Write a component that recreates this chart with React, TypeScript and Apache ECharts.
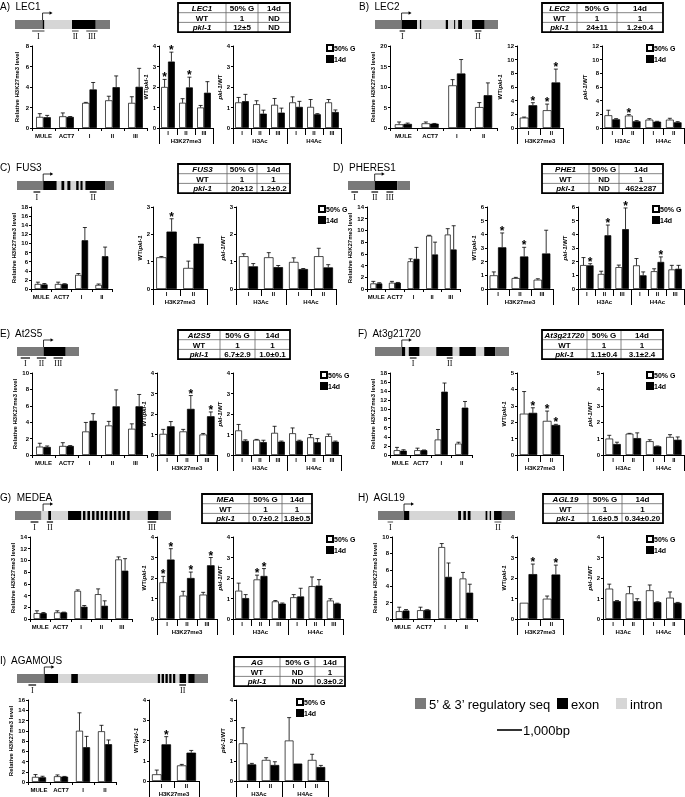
import React, { useEffect, useRef } from 'react';
import * as echarts from 'echarts';

const SANS = '"Liberation Sans", Arial, Helvetica, sans-serif';
const SERIF = '"Liberation Serif", "Times New Roman", serif';
const C_REG = '#7a7a7a';
const C_EXON = '#000000';
const C_INTRON = '#d6d6d6';

// ---------------- shared category / tick labels
const seriesNames = ['50% G', '14d'];
const k27Cats5 = ['MULE', 'ACT7', 'I', 'II', 'III'];
const k27Cats4 = ['MULE', 'ACT7', 'I', 'II'];
const regCats3 = ['I', 'II', 'III'];
const regCats2 = ['I', 'II'];
const acCats3 = ['I', 'II', 'III', 'I', 'II', 'III'];
const acCats2 = ['I', 'II', 'I', 'II'];
const ratioGroups = ['H3K27me3'];
const acGroups = ['H3Ac', 'H4Ac'];
const tableHeader = ['50% G', '14d'];
const tableRows = ['WT', 'pkl-1'];

// ---------------- A) LEC1
const lec1K27G = [1.08, 1.14, 2.45, 2.7, 2.45];
const lec1K27GErr = [0.32, 0.33, 0.05, 0.4, 0.6];
const lec1K27D = [1.05, 1.08, 3.76, 3.98, 4.02];
const lec1K27DErr = [0.18, 0.04, 0.68, 1.1, 1.8];
const lec1RatioG = [2.0, 1.23, 1.0];
const lec1RatioGErr = [0.37, 0.2, 0.1];
const lec1RatioD = [3.24, 1.98, 1.72];
const lec1RatioDErr = [0.46, 0.5, 0.54];
const lec1RatioStarG = [1, 0, 0];
const lec1RatioStarD = [1, 1, 0];
const lec1AcG = [1.25, 1.16, 1.13, 1.25, 1.03, 1.25];
const lec1AcGErr = [0.24, 0.17, 0.31, 0.27, 0.36, 0.14];
const lec1AcD = [1.31, 0.7, 0.75, 1.03, 0.67, 0.78];
const lec1AcDErr = [0.33, 0.17, 0.22, 0.27, 0.03, 0.1];
const lec1AcStarG = [0, 0, 0, 0, 0, 0];
const lec1AcStarD = [0, 0, 0, 0, 0, 0];
const lec1Tab50G = ['1', '12±5'];
const lec1Tab14d = ['ND', 'ND'];
const lec1Segs = [[0, 0.29, 'r'], [0.29, 0.31, 'e'], [0.31, 0.6, 'i'], [0.6, 0.85, 'e'], [0.85, 1, 'r']];
const lec1Marks = [[0.18, 0.31, 'I'], [0.6, 0.67, 'II'], [0.75, 0.87, 'III']];

// ---------------- B) LEC2
const lec2K27G = [0.9, 1.14, 10.4, 5.1];
const lec2K27GErr = [0.57, 0.33, 1.4, 1.1];
const lec2K27D = [1.0, 1.06, 13.3, 8.0];
const lec2K27DErr = [0.2, 0.05, 3.4, 3.0];
const lec2RatioG = [1.52, 2.6];
const lec2RatioGErr = [0.08, 0.9];
const lec2RatioD = [3.33, 6.67];
const lec2RatioDErr = [0.37, 1.95];
const lec2RatioStarG = [0, 1];
const lec2RatioStarD = [1, 1];
const lec2AcG = [1.86, 1.81, 1.22, 1.22];
const lec2AcGErr = [0.74, 0.15, 0.15, 0.2];
const lec2AcD = [1.27, 0.98, 0.93, 0.83];
const lec2AcDErr = [0.1, 0.1, 0.05, 0.1];
const lec2AcStarG = [0, 1, 0, 0];
const lec2AcStarD = [0, 0, 0, 0];
const lec2Tab50G = ['1', '24±11'];
const lec2Tab14d = ['1', '1.2±0.4'];
const lec2Segs = [[0, 0.216, 'r'], [0.216, 0.343, 'e'], [0.343, 0.365, 'i'], [0.365, 0.378, 'e'], [0.378, 0.575, 'i'], [0.575, 0.595, 'e'], [0.595, 0.643, 'i'], [0.643, 0.654, 'e'], [0.654, 0.676, 'i'], [0.676, 0.708, 'e'], [0.708, 0.789, 'i'], [0.789, 0.892, 'e'], [0.892, 1, 'r']];
const lec2Marks = [[0.2, 0.245, 'I'], [0.81, 0.865, 'II']];

// ---------------- C) FUS3
const fus3K27G = [1.1, 1.1, 3.1, 0.9];
const fus3K27GErr = [0.4, 0.4, 0.3, 0.2];
const fus3K27D = [1.0, 1.1, 10.7, 7.2];
const fus3K27DErr = [0.2, 0.05, 2.8, 2.0];
const fus3RatioG = [1.16, 0.77];
const fus3RatioGErr = [0.03, 0.25];
const fus3RatioD = [2.1, 1.66];
const fus3RatioDErr = [0.47, 0.22];
const fus3RatioStarG = [0, 0];
const fus3RatioStarD = [1, 0];
const fus3AcG = [1.2, 1.16, 0.99, 1.2];
const fus3AcGErr = [0.09, 0.17, 0.15, 0.29];
const fus3AcD = [0.83, 0.8, 0.73, 0.79];
const fus3AcDErr = [0.1, 0.06, 0.02, 0.1];
const fus3AcStarG = [0, 0, 0, 0];
const fus3AcStarD = [0, 0, 0, 0];
const fus3Tab50G = ['1', '20±12'];
const fus3Tab14d = ['1', '1.2±0.2'];
const fus3Segs = [[0, 0.27, 'r'], [0.27, 0.41, 'e'], [0.41, 0.458, 'i'], [0.458, 0.49, 'e'], [0.49, 0.519, 'i'], [0.519, 0.553, 'e'], [0.553, 0.61, 'i'], [0.61, 0.637, 'e'], [0.637, 0.654, 'i'], [0.654, 0.678, 'e'], [0.678, 0.705, 'i'], [0.705, 0.908, 'e'], [0.908, 1, 'r']];
const fus3Marks = [[0.17, 0.24, 'I'], [0.75, 0.82, 'II']];

// ---------------- D) PHERES1
const phe1K27G = [0.95, 1.07, 4.73, 9.1, 9.3];
const phe1K27GErr = [0.35, 0.23, 0.42, 0.07, 1.0];
const phe1K27D = [0.95, 1.07, 5.15, 5.9, 6.75];
const phe1K27DErr = [0.12, 0.05, 1.95, 2.1, 4.05];
const phe1RatioG = [1.0, 0.8, 0.68];
const phe1RatioGErr = [0.25, 0.05, 0.07];
const phe1RatioD = [3.05, 2.38, 2.6];
const phe1RatioDErr = [1.05, 0.67, 1.7];
const phe1RatioStarG = [0, 0, 0];
const phe1RatioStarD = [1, 1, 0];
const phe1AcG = [1.75, 1.1, 1.6, 1.73, 1.3, 1.43];
const phe1AcGErr = [0.55, 0.2, 0.15, 0.5, 0.18, 0.3];
const phe1AcD = [1.73, 3.93, 4.38, 1.0, 1.98, 1.48];
const phe1AcDErr = [0.12, 0.75, 1.55, 0.25, 0.37, 0.25];
const phe1AcStarG = [0, 0, 0, 0, 0, 0];
const phe1AcStarD = [1, 1, 1, 0, 1, 0];
const phe1Tab50G = ['ND', 'ND'];
const phe1Tab14d = ['1', '462±287'];
const phe1Segs = [[0, 0.43, 'r'], [0.43, 0.795, 'e'], [0.795, 1, 'r']];
const phe1Marks = [[0.054, 0.162, 'I'], [0.378, 0.486, 'II'], [0.62, 0.73, 'III']];

// ---------------- E) At2S5
const at2s5K27G = [1.02, 1.1, 2.87, 3.6, 3.2];
const at2s5K27GErr = [0.41, 0.4, 1.1, 0.5, 0.6];
const at2s5K27D = [0.98, 1.1, 4.18, 5.94, 5.94];
const at2s5K27DErr = [0.12, 0.05, 0.86, 2.0, 1.44];
const at2s5RatioG = [1.03, 1.15, 1.0];
const at2s5RatioGErr = [0.22, 0.1, 0.05];
const at2s5RatioD = [1.4, 2.25, 1.89];
const at2s5RatioDErr = [0.23, 0.65, 0.21];
const at2s5RatioStarG = [0, 0, 0];
const at2s5RatioStarD = [0, 1, 1];
const at2s5AcG = [1.2, 0.74, 1.08, 1.06, 0.86, 0.92];
const at2s5AcGErr = [0.29, 0.02, 0.32, 0.26, 0.14, 0.1];
const at2s5AcD = [0.69, 0.63, 0.65, 0.69, 0.62, 0.65];
const at2s5AcDErr = [0.05, 0.09, 0.03, 0.03, 0.18, 0.03];
const at2s5AcStarG = [0, 0, 0, 0, 0, 0];
const at2s5AcStarD = [0, 0, 0, 0, 0, 0];
const at2s5Tab50G = ['1', '6.7±2.9'];
const at2s5Tab14d = ['1', '1.0±0.1'];
const at2s5Segs = [[0, 0.428, 'r'], [0.428, 0.786, 'e'], [0.786, 1, 'r']];
const at2s5Marks = [[0.06, 0.21, 'I'], [0.32, 0.47, 'II'], [0.59, 0.74, 'III']];

// ---------------- F) At3g21720
const at3gK27G = [1.05, 1.05, 3.4, 2.5];
const at3gK27GErr = [0.62, 0.45, 2.2, 0.3];
const at3gK27D = [0.95, 1.05, 13.9, 10.4];
const at3gK27DErr = [0.2, 0.05, 1.9, 1.35];
const at3gRatioG = [2.52, 2.08];
const at3gRatioGErr = [1.35, 0.6];
const at3gRatioD = [2.57, 1.83];
const at3gRatioDErr = [0.31, 0.04];
const at3gRatioStarG = [0, 1];
const at3gRatioStarD = [1, 1];
const at3gAcG = [1.0, 1.3, 0.84, 1.1];
const at3gAcGErr = [0.2, 0.02, 0.09, 0.14];
const at3gAcD = [0.67, 1.03, 0.53, 0.93];
const at3gAcDErr = [0.11, 0.32, 0.02, 0.17];
const at3gAcStarG = [0, 0, 0, 0];
const at3gAcStarD = [0, 0, 0, 0];
const at3gTab50G = ['1', '1.1±0.4'];
const at3gTab14d = ['1', '3.1±2.4'];
const at3gSegs = [[0, 0.2, 'r'], [0.2, 0.227, 'e'], [0.227, 0.252, 'i'], [0.252, 0.333, 'e'], [0.333, 0.457, 'i'], [0.457, 0.58, 'e'], [0.58, 0.63, 'i'], [0.63, 0.753, 'e'], [0.753, 0.815, 'i'], [0.815, 0.896, 'e'], [0.896, 1, 'r']];
const at3gMarks = [[0.26, 0.31, 'I'], [0.536, 0.58, 'II']];

// ---------------- G) MEDEA
const meaK27G = [1.0, 1.13, 4.8, 4.24, 10.17];
const meaK27GErr = [0.4, 0.27, 0.17, 0.9, 0.43];
const meaK27D = [1.0, 1.13, 2.09, 2.26, 8.25];
const meaK27DErr = [0.1, 0.04, 0.21, 0.84, 2.05];
const meaRatioG = [1.79, 1.14, 1.19];
const meaRatioGErr = [0.29, 0.21, 0.11];
const meaRatioD = [2.9, 2.0, 2.62];
const meaRatioDErr = [0.53, 0.29, 0.38];
const meaRatioStarG = [1, 0, 0];
const meaRatioStarD = [1, 1, 1];
const meaAcG = [1.38, 1.93, 0.86, 1.06, 1.6, 0.9];
const meaAcGErr = [0.37, 0.21, 0.04, 0.13, 0.45, 0.09];
const meaAcD = [1.02, 2.1, 0.75, 1.1, 1.63, 0.75];
const meaAcDErr = [0.17, 0.36, 0.03, 0.4, 0.29, 0.02];
const meaAcStarG = [0, 1, 0, 0, 0, 0];
const meaAcStarD = [0, 1, 0, 0, 0, 0];
const meaTab50G = ['1', '0.7±0.2'];
const meaTab14d = ['1', '1.8±0.5'];
const meaSegs = [[0, 0.17, 'r'], [0.17, 0.213, 'i'], [0.213, 0.232, 'e'], [0.232, 0.34, 'i'], [0.34, 0.426, 'e'], [0.426, 0.436, 'i'],
  [0.436, 0.453, 'e'], [0.453, 0.464, 'i'], [0.464, 0.481, 'e'], [0.481, 0.494, 'i'], [0.494, 0.511, 'e'], [0.511, 0.521, 'i'],
  [0.521, 0.538, 'e'], [0.538, 0.549, 'i'], [0.549, 0.566, 'e'], [0.566, 0.577, 'i'], [0.577, 0.594, 'e'], [0.594, 0.606, 'i'],
  [0.606, 0.623, 'e'], [0.623, 0.634, 'i'], [0.634, 0.651, 'e'], [0.651, 0.662, 'i'], [0.662, 0.679, 'e'], [0.679, 0.69, 'i'],
  [0.69, 0.707, 'e'], [0.707, 0.719, 'i'], [0.719, 0.736, 'e'], [0.736, 0.851, 'i'], [0.851, 0.921, 'e'], [0.921, 1, 'r']];
const meaMarks = [[0.1, 0.15, 'I'], [0.204, 0.244, 'II'], [0.85, 0.905, 'III']];

// ---------------- H) AGL19
const agl19K27G = [0.95, 1.07, 8.77, 4.94];
const agl19K27GErr = [0.49, 0.37, 0.43, 0.74];
const agl19K27D = [1.03, 1.1, 5.14, 3.21];
const agl19K27DErr = [0.12, 0.03, 1.69, 1.03];
const agl19RatioG = [0.79, 0.99];
const agl19RatioGErr = [0, 0.13];
const agl19RatioD = [2.19, 2.17];
const agl19RatioDErr = [0.49, 0.46];
const agl19RatioStarG = [0, 0];
const agl19RatioStarD = [1, 1];
const agl19AcG = [1.48, 1.25, 1.4, 1.04];
const agl19AcGErr = [0.22, 0.33, 0.26, 0.28];
const agl19AcD = [0.87, 0.87, 0.82, 0.79];
const agl19AcDErr = [0.03, 0.12, 0.02, 0.02];
const agl19AcStarG = [0, 0, 0, 0];
const agl19AcStarD = [0, 0, 0, 0];
const agl19Tab50G = ['1', '1.6±0.5'];
const agl19Tab14d = ['1', '0.34±0.20'];
const agl19Segs = [[0, 0.19, 'r'], [0.19, 0.23, 'e'], [0.23, 0.585, 'i'], [0.585, 0.607, 'e'], [0.607, 0.623, 'i'], [0.623, 0.642, 'e'], [0.642, 0.655, 'i'], [0.655, 0.677, 'e'], [0.677, 0.785, 'i'], [0.785, 0.8, 'e'], [0.8, 0.815, 'i'], [0.815, 0.827, 'e'], [0.827, 0.847, 'i'], [0.847, 0.904, 'e'], [0.904, 1, 'r']];
const agl19Marks = [[0.07, 0.11, 'I'], [0.85, 0.9, 'II']];

// ---------------- I) AGAMOUS
const agK27G = [0.99, 1.12, 10.0, 9.9];
const agK27GErr = [0.46, 0.26, 3.5, 1.16];
const agK27D = [0.92, 1.05, 6.78, 7.37];
const agK27DErr = [0.2, 0.04, 2.12, 0.83];
const agRatioG = [0.33, 0.77];
const agRatioGErr = [0.21, 0.05];
const agRatioD = [1.81, 1.4];
const agRatioDErr = [0.38, 0.11];
const agRatioStarG = [0, 0];
const agRatioStarD = [1, 0];
const agAcG = [1.86, 1.04, 2.0, 1.04];
const agAcGErr = [0.77, 0.11, 1.13, 0.28];
const agAcD = [0.82, 0.79, 0.86, 0.69];
const agAcDErr = [0.05, 0.16, 0, 0.08];
const agAcStarG = [0, 0, 0, 0];
const agAcStarD = [0, 0, 0, 0];
const agTab50G = ['ND', 'ND'];
const agTab14d = ['1', '0.3±0.2'];
const agSegs = [[0, 0.143, 'r'], [0.143, 0.216, 'e'], [0.216, 0.284, 'i'], [0.284, 0.319, 'e'], [0.319, 0.737, 'i'],
  [0.737, 0.75, 'e'], [0.75, 0.757, 'i'], [0.757, 0.77, 'e'], [0.77, 0.777, 'i'], [0.777, 0.79, 'e'], [0.79, 0.797, 'i'],
  [0.797, 0.81, 'e'], [0.81, 0.817, 'i'], [0.817, 0.83, 'e'], [0.83, 0.851, 'i'], [0.851, 0.886, 'e'], [0.886, 0.897, 'i'],
  [0.897, 0.931, 'e'], [0.931, 1, 'r']];
const agMarks = [[0.06, 0.1, 'I'], [0.85, 0.885, 'II']];

// ---------------- bottom legend
const geneLegendLabels = ['5’ & 3’ regulatory seq', 'exon', 'intron'];
const scaleBarLabel = '1,000bp';

// ---------------- layout (positions only)
const panels = [
  { letter: 'A)', title: 'LEC1', tx: 0, o: 0, geneX: [15, 110], tss: 0.29, segs: lec1Segs, marks: lec1Marks, markColor: '#777',
    tab: { x: 178, w: [48, 32, 32], gene: 'LEC1', v50: lec1Tab50G, v14: lec1Tab14d },
    c1: [32, 147], c2: [159, 213], c3: [233, 341], lx: 326,
    k27: { cats: k27Cats5, g: lec1K27G, ge: lec1K27GErr, d: lec1K27D, de: lec1K27DErr, max: 8, int: 2 },
    ratio: { cats: regCats3, g: lec1RatioG, ge: lec1RatioGErr, d: lec1RatioD, de: lec1RatioDErr, sg: lec1RatioStarG, sd: lec1RatioStarD, max: 4, int: 1 },
    ac: { cats: acCats3, g: lec1AcG, ge: lec1AcGErr, d: lec1AcD, de: lec1AcDErr, sg: lec1AcStarG, sd: lec1AcStarD, max: 4, int: 1 } },
  { letter: 'B)', title: 'LEC2', tx: 359, o: 0, geneX: [375, 498], tss: 0.216, segs: lec2Segs, marks: lec2Marks, markColor: '#444',
    tab: { x: 542, w: [35, 40, 46], gene: 'LEC2', v50: lec2Tab50G, v14: lec2Tab14d },
    c1: [390, 497], c2: [517, 563], c3: [602, 684], lx: 646,
    k27: { cats: k27Cats4, g: lec2K27G, ge: lec2K27GErr, d: lec2K27D, de: lec2K27DErr, max: 20, int: 5 },
    ratio: { cats: regCats2, g: lec2RatioG, ge: lec2RatioGErr, d: lec2RatioD, de: lec2RatioDErr, sg: lec2RatioStarG, sd: lec2RatioStarD, max: 12, int: 2 },
    ac: { cats: acCats2, g: lec2AcG, ge: lec2AcGErr, d: lec2AcD, de: lec2AcDErr, sg: lec2AcStarG, sd: lec2AcStarD, max: 12, int: 2 } },
  { letter: 'C)', title: 'FUS3', tx: 0, o: 161, geneX: [17, 114], tss: 0.27, segs: fus3Segs, marks: fus3Marks, markColor: '#333',
    tab: { x: 178, w: [49, 30, 33], gene: 'FUS3', v50: fus3Tab50G, v14: fus3Tab14d },
    c1: [31, 112], c2: [153, 207], c3: [236, 336], lx: 318,
    k27: { cats: k27Cats4, g: fus3K27G, ge: fus3K27GErr, d: fus3K27D, de: fus3K27DErr, max: 18, int: 2 },
    ratio: { cats: regCats2, g: fus3RatioG, ge: fus3RatioGErr, d: fus3RatioD, de: fus3RatioDErr, sg: fus3RatioStarG, sd: fus3RatioStarD, max: 3, int: 1 },
    ac: { cats: acCats2, g: fus3AcG, ge: fus3AcGErr, d: fus3AcD, de: fus3AcDErr, sg: fus3AcStarG, sd: fus3AcStarD, max: 3, int: 1 } },
  { letter: 'D)', title: 'PHERES1', tx: 333, o: 161, geneX: [348, 410], tss: 0.43, segs: phe1Segs, marks: phe1Marks, markColor: '#333',
    tab: { x: 542, w: [47, 30, 44], gene: 'PHE1', v50: phe1Tab50G, v14: phe1Tab14d },
    c1: [367, 460], c2: [487, 553], c3: [578, 684], lx: 652,
    k27: { cats: k27Cats5, g: phe1K27G, ge: phe1K27GErr, d: phe1K27D, de: phe1K27DErr, max: 14, int: 2 },
    ratio: { cats: regCats3, g: phe1RatioG, ge: phe1RatioGErr, d: phe1RatioD, de: phe1RatioDErr, sg: phe1RatioStarG, sd: phe1RatioStarD, max: 6, int: 1 },
    ac: { cats: acCats3, g: phe1AcG, ge: phe1AcGErr, d: phe1AcD, de: phe1AcDErr, sg: phe1AcStarG, sd: phe1AcStarD, max: 6, int: 1 } },
  { letter: 'E)', title: 'At2S5', tx: 0, o: 327, geneX: [17, 79], tss: 0.428, segs: at2s5Segs, marks: at2s5Marks, markColor: '#333',
    tab: { x: 178, w: [42, 35, 35], gene: 'At2S5', v50: at2s5Tab50G, v14: at2s5Tab14d },
    c1: [32, 147], c2: [157, 217], c3: [233, 341], lx: 320,
    k27: { cats: k27Cats5, g: at2s5K27G, ge: at2s5K27GErr, d: at2s5K27D, de: at2s5K27DErr, max: 10, int: 2 },
    ratio: { cats: regCats3, g: at2s5RatioG, ge: at2s5RatioGErr, d: at2s5RatioD, de: at2s5RatioDErr, sg: at2s5RatioStarG, sd: at2s5RatioStarD, max: 4, int: 1 },
    ac: { cats: acCats3, g: at2s5AcG, ge: at2s5AcGErr, d: at2s5AcD, de: at2s5AcDErr, sg: at2s5AcStarG, sd: at2s5AcStarD, max: 4, int: 1 } },
  { letter: 'F)', title: 'At3g21720', tx: 358, o: 327, geneX: [375, 509], tss: 0.2, segs: at3gSegs, marks: at3gMarks, markColor: '#444',
    tab: { x: 542, w: [45, 34, 42], gene: 'At3g21720', v50: at3gTab50G, v14: at3gTab14d },
    c1: [390, 472], c2: [517, 563], c3: [603, 684], lx: 646,
    k27: { cats: k27Cats4, g: at3gK27G, ge: at3gK27GErr, d: at3gK27D, de: at3gK27DErr, max: 18, int: 2 },
    ratio: { cats: regCats2, g: at3gRatioG, ge: at3gRatioGErr, d: at3gRatioD, de: at3gRatioDErr, sg: at3gRatioStarG, sd: at3gRatioStarD, max: 5, int: 1 },
    ac: { cats: acCats2, g: at3gAcG, ge: at3gAcGErr, d: at3gAcD, de: at3gAcDErr, sg: at3gAcStarG, sd: at3gAcStarD, max: 5, int: 1 } },
  { letter: 'G)', title: 'MEDEA', tx: 0, o: 491, geneX: [15, 171], tss: 0.18, segs: meaSegs, marks: meaMarks, markColor: '#333',
    tab: { x: 202, w: [47, 33, 30], gene: 'MEA', v50: meaTab50G, v14: meaTab14d },
    c1: [30, 132], c2: [157, 217], c3: [233, 343], lx: 326,
    k27: { cats: k27Cats5, g: meaK27G, ge: meaK27GErr, d: meaK27D, de: meaK27DErr, max: 14, int: 2 },
    ratio: { cats: regCats3, g: meaRatioG, ge: meaRatioGErr, d: meaRatioD, de: meaRatioDErr, sg: meaRatioStarG, sd: meaRatioStarD, max: 4, int: 1 },
    ac: { cats: acCats3, g: meaAcG, ge: meaAcGErr, d: meaAcD, de: meaAcDErr, sg: meaAcStarG, sd: meaAcStarD, max: 4, int: 1 } },
  { letter: 'H)', title: 'AGL19', tx: 358, o: 491, geneX: [378, 515], tss: 0.19, segs: agl19Segs, marks: agl19Marks, markColor: '#888',
    tab: { x: 543, w: [45, 34, 41], gene: 'AGL19', v50: agl19Tab50G, v14: agl19Tab14d },
    c1: [392, 477], c2: [517, 563], c3: [603, 684], lx: 646,
    k27: { cats: k27Cats4, g: agl19K27G, ge: agl19K27GErr, d: agl19K27D, de: agl19K27DErr, max: 10, int: 2 },
    ratio: { cats: regCats2, g: agl19RatioG, ge: agl19RatioGErr, d: agl19RatioD, de: agl19RatioDErr, sg: agl19RatioStarG, sd: agl19RatioStarD, max: 4, int: 1 },
    ac: { cats: acCats2, g: agl19AcG, ge: agl19AcGErr, d: agl19AcD, de: agl19AcDErr, sg: agl19AcStarG, sd: agl19AcStarD, max: 4, int: 1 } },
  { letter: 'I)', title: 'AGAMOUS', tx: 0, o: 654, geneX: [17, 208], tss: 0.143, segs: agSegs, marks: agMarks, markColor: '#333',
    tab: { x: 234, w: [46, 35, 30], gene: 'AG', v50: agTab50G, v14: agTab14d },
    c1: [28, 116], c2: [149, 199], c3: [236, 328], lx: 296,
    k27: { cats: k27Cats4, g: agK27G, ge: agK27GErr, d: agK27D, de: agK27DErr, max: 16, int: 2 },
    ratio: { cats: regCats2, g: agRatioG, ge: agRatioGErr, d: agRatioD, de: agRatioDErr, sg: agRatioStarG, sd: agRatioStarD, max: 4, int: 1 },
    ac: { cats: acCats2, g: agAcG, ge: agAcGErr, d: agAcD, de: agAcDErr, sg: agAcStarG, sd: agAcStarD, max: 4, int: 1 } },
];

const LBL = { fontSize: 6, fontWeight: 'bold', color: '#000', fontFamily: SANS };

function makeRender(gapFrac) {
  return (params, api) => {
    const idx = api.value(0);
    const v = api.value(1);
    const e = api.value(2);
    const side = api.value(3);
    const star = api.value(4);
    const band = api.size([1, 0])[0];
    const bw = (band * (1 - gapFrac)) / 2;
    const base = api.coord([idx, v]);
    const x = base[0] + (side === 0 ? -bw / 2 : bw / 2);
    const yTop = api.coord([idx, v + e])[1];
    const children = [];
    if (e > 0) {
      children.push({ type: 'line', shape: { x1: x, y1: base[1], x2: x, y2: yTop }, style: { stroke: '#000', lineWidth: 0.8 } });
      children.push({ type: 'line', shape: { x1: x - 2, y1: yTop, x2: x + 2, y2: yTop }, style: { stroke: '#000', lineWidth: 0.8 } });
    }
    if (star) {
      children.push({ type: 'text', x: x, y: yTop - 2, style: { text: '*', fontSize: 12, fontWeight: 'bold', fontFamily: SANS, fill: '#000', align: 'center', verticalAlign: 'middle', textAlign: 'center', textVerticalAlign: 'middle' } });
    }
    return { type: 'group', children };
  };
}

function buildOption() {
  const grid = [];
  const xAxis = [];
  const yAxis = [];
  const series = [];
  const legend = [];
  const els = [];

  const addChart = (kind, rect, d, o) => {
    const gi = grid.length;
    grid.push({ left: rect[0], top: o + 46, width: rect[1] - rect[0], height: 82 });
    const xi = xAxis.length;
    const gapFrac = kind === 'k27' ? 0.36 : 0.24;
    xAxis.push({
      type: 'category', gridIndex: gi, data: d.cats, position: 'bottom',
      axisLine: { show: true, onZero: false, lineStyle: { color: '#000', width: 1 } },
      axisTick: { show: true, interval: 0, length: kind === 'k27' ? 3 : 7, lineStyle: { color: '#000', width: 1 } },
      axisLabel: { ...LBL, interval: 0, margin: kind === 'k27' ? 5 : 2 },
    });
    if (kind !== 'k27') {
      xAxis.push({
        type: 'category', gridIndex: gi, data: kind === 'ratio' ? ratioGroups : acGroups, position: 'bottom',
        axisLine: { show: false },
        axisTick: { show: true, interval: 0, length: 16, lineStyle: { color: '#000', width: 1 } },
        axisLabel: { ...LBL, interval: 0, margin: 10 },
      });
    }
    const yi = yAxis.length;
    let name = 'Relative H3K27me3 level';
    if (kind === 'ratio') name = '{n|WT/}{i|pkl-1}';
    if (kind === 'ac') name = '{i|pkl-1}{n|/WT}';
    yAxis.push({
      type: 'value', gridIndex: gi, min: 0, max: d.max, interval: d.int,
      axisLine: { show: true, lineStyle: { color: '#000', width: 1 } },
      axisTick: { show: true, length: 2, lineStyle: { color: '#000' } },
      axisLabel: { ...LBL, margin: 3 },
      splitLine: { show: false },
      name, nameLocation: 'middle', nameGap: kind === 'k27' ? 12 : 8,
      nameTextStyle: {
        ...LBL,
        rich: { n: { ...LBL }, i: { ...LBL, fontStyle: 'italic' } },
      },
    });
    const common = { xAxisIndex: xi, yAxisIndex: yi, barGap: '0%', barCategoryGap: Math.round(gapFrac * 100) + '%', silent: true };
    series.push({ type: 'bar', name: seriesNames[0], ...common, data: d.g, itemStyle: { color: '#fff', borderColor: '#000', borderWidth: 0.7 } });
    series.push({ type: 'bar', name: seriesNames[1], ...common, data: d.d, itemStyle: { color: '#000', borderColor: '#000', borderWidth: 0.7 } });
    const errData = [];
    d.g.forEach((v, i) => errData.push([i, v, d.ge[i], 0, d.sg ? d.sg[i] : 0]));
    d.d.forEach((v, i) => errData.push([i, v, d.de[i], 1, d.sd ? d.sd[i] : 0]));
    series.push({ type: 'custom', name: 'err', xAxisIndex: xi, yAxisIndex: yi, data: errData, renderItem: makeRender(gapFrac), clip: false, z: 5, silent: true });
  };

  panels.forEach((p) => {
    const o = p.o;
    els.push({ type: 'text', x: p.tx, y: o + 6, style: { text: p.letter + '  ' + p.title, fontSize: 10, fontFamily: SANS, fill: '#000', verticalAlign: 'middle', textVerticalAlign: 'middle' } });
    const gx0 = p.geneX[0];
    const W = p.geneX[1] - p.geneX[0];
    const top = o + 20;
    p.segs.forEach(([a, b, t]) => {
      els.push({ type: 'rect', shape: { x: gx0 + a * W, y: top, width: (b - a) * W, height: 9 }, style: { fill: t === 'r' ? C_REG : t === 'e' ? C_EXON : C_INTRON } });
    });
    const tx = gx0 + p.tss * W;
    els.push({ type: 'polyline', shape: { points: [[tx, top], [tx, top - 7], [tx + 8, top - 7]] }, style: { stroke: '#000', lineWidth: 0.8, fill: null } });
    els.push({ type: 'polygon', shape: { points: [[tx + 10, top - 7], [tx + 7, top - 8.8], [tx + 7, top - 5.2]] }, style: { fill: '#000' } });
    p.marks.forEach(([a, b, lab]) => {
      els.push({ type: 'line', shape: { x1: gx0 + a * W, y1: top + 11, x2: gx0 + b * W, y2: top + 11 }, style: { stroke: p.markColor, lineWidth: 1.5 } });
      els.push({ type: 'text', x: gx0 + ((a + b) / 2) * W, y: top + 16.5, style: { text: lab, fontSize: 8, fontFamily: SERIF, fill: '#000', align: 'center', verticalAlign: 'middle', textAlign: 'center', textVerticalAlign: 'middle' } });
    });
    const t = p.tab;
    const ty = o + 3;
    const rh = 9.7;
    const tw = t.w[0] + t.w[1] + t.w[2];
    const colX = [t.x, t.x + t.w[0], t.x + t.w[0] + t.w[1]];
    const cells = [
      [t.gene, tableHeader[0], tableHeader[1]],
      [tableRows[0], t.v50[0], t.v14[0]],
      [tableRows[1], t.v50[1], t.v14[1]],
    ];
    cells.forEach((row, r) => {
      row.forEach((txt, c) => {
        const italic = c === 0 && r !== 1;
        els.push({ type: 'text', x: colX[c] + t.w[c] / 2, y: ty + rh * r + rh / 2 + 0.5, style: { text: txt, fontSize: 8, fontWeight: 'bold', fontStyle: italic ? 'italic' : 'normal', fontFamily: SANS, fill: '#000', align: 'center', verticalAlign: 'middle', textAlign: 'center', textVerticalAlign: 'middle' } });
      });
    });
    [1, 2].forEach((r) => els.push({ type: 'line', shape: { x1: t.x, y1: ty + rh * r, x2: t.x + tw, y2: ty + rh * r }, style: { stroke: '#666', lineWidth: 0.8 } }));
    [1, 2].forEach((c) => els.push({ type: 'line', shape: { x1: colX[c], y1: ty, x2: colX[c], y2: ty + rh * 3 }, style: { stroke: '#666', lineWidth: 0.8 } }));
    els.push({ type: 'rect', shape: { x: t.x, y: ty, width: tw, height: rh * 3 }, style: { fill: null, stroke: '#000', lineWidth: 1.8 } });

    addChart('k27', p.c1, p.k27, o);
    addChart('ratio', p.c2, p.ratio, o);
    addChart('ac', p.c3, p.ac, o);
    legend.push({
      left: p.lx, top: o + 44, orient: 'vertical', itemWidth: 6, itemHeight: 6, itemGap: 3, padding: 0,
      data: seriesNames, selectedMode: false, icon: 'rect',
      textStyle: { ...LBL, fontSize: 7, padding: [0, 0, 0, -4] },
    });
  });

  const ly = 698;
  const lcols = [C_REG, C_EXON, C_INTRON];
  const lxs = [415, 557, 616];
  lxs.forEach((x, i) => {
    els.push({ type: 'rect', shape: { x, y: ly, width: 11, height: 11 }, style: { fill: lcols[i] } });
    els.push({ type: 'text', x: x + 14, y: ly + 6, style: { text: geneLegendLabels[i], fontSize: 13, fontFamily: SANS, fill: '#000', verticalAlign: 'middle', textVerticalAlign: 'middle' } });
  });
  els.push({ type: 'line', shape: { x1: 497, y1: 730, x2: 522, y2: 730 }, style: { stroke: '#000', lineWidth: 1.6 } });
  els.push({ type: 'text', x: 523, y: 730, style: { text: scaleBarLabel, fontSize: 13, fontFamily: SANS, fill: '#000', verticalAlign: 'middle', textVerticalAlign: 'middle' } });

  return {
    animation: false,
    backgroundColor: '#fff',
    textStyle: { fontFamily: SANS },
    grid, xAxis, yAxis, series, legend,
    graphic: { elements: els },
  };
}

export default function App() {
  const ref = useRef(null);
  useEffect(() => {
    const chart = echarts.init(ref.current, null, { renderer: 'svg' });
    chart.setOption(buildOption());
    return () => chart.dispose();
  }, []);
  return <div ref={ref} style={{ position: 'absolute', left: 0, top: 0, width: 685, height: 797, willChange: 'transform' }} />;
}
